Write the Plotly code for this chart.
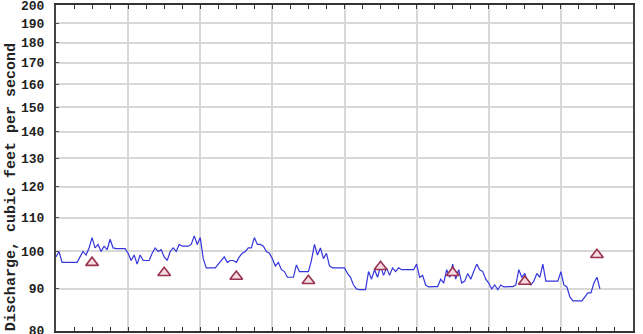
import math
import pandas as pd
import plotly.graph_objects as go

# Hourly discharge, cubic feet per second
discharge = [
    98.5, 100, 97, 97, 97, 97, 97, 97, 98.5, 100, 99, 101, 104, 101, 102, 100,
    101.5, 100.5, 103.5, 101, 100.8, 100.8, 100.8, 100.8,
    99.5, 97.5, 99, 96.5, 99, 97.5, 97.5, 97.5, 99.5, 101, 100, 100.5, 98.5, 97.5,
    100, 101, 100, 102, 101.5, 101.5, 101.5, 102, 104.5, 102,
    104, 98, 95.5, 95.5, 95.5, 95.5, 96.5, 97.5, 98.5, 97, 97.5, 97.5, 97, 98.5,
    99.5, 100, 101, 101, 104, 102, 102, 101.5, 100, 99.5,
    98, 96, 97, 95, 94.5, 93, 93, 93, 96.3, 94.5, 94.5, 94.5, 94.5, 97.5, 102, 99,
    101, 98, 99.5, 96, 95.5, 95.5, 95.5, 95.5,
    95.5, 94, 93, 91, 90, 89.8, 89.8, 89.8, 94.5, 92.5, 95, 93, 96, 93.5, 95.5,
    93.5, 95.5, 94.5, 95.5, 95, 95, 95, 95, 95,
    96.5, 93, 93.5, 91, 90.5, 90.6, 90.6, 90.6, 92.5, 91.5, 95, 93, 96.5, 92.5, 95,
    91.5, 92, 94, 92.5, 94.5, 96.5, 95, 94.5, 92.5,
    91.5, 90, 91, 89.8, 91, 90.5, 90.6, 90.6, 90.6, 91, 95, 93, 94, 91.5, 91, 92,
    94, 93, 96.5, 92, 92, 92, 92, 92,
    94.5, 91, 90.5, 88, 87, 87, 87, 87, 88, 89, 89, 91.5, 93, 90,
]
start = pd.Timestamp("2011-06-01 00:00")
times = pd.date_range(start, periods=len(discharge), freq="h")

# Daily median discharge markers (at noon of each day)
median_days = [0, 1, 2, 3, 4, 5, 6, 7]
median_vals = [96.9, 94.2, 93.2, 92.1, 95.8, 94.2, 91.9, 99.1]
median_times = [start + pd.Timedelta(days=d, hours=12) for d in median_days]

ytick_vals = [80, 90, 100, 110, 120, 130, 140, 150, 160, 170, 180, 190, 200]
ytick_text = [str(v) for v in ytick_vals]

font_mono = dict(family="Liberation Mono", size=13, color="#222", weight="bold")

fig = go.Figure()
fig.add_trace(go.Scatter(
    x=times, y=discharge, mode="lines",
    line=dict(color="#3535dd", width=1.2, shape="linear"),
    showlegend=False, hoverinfo="x+y",
))
fig.add_trace(go.Scatter(
    x=median_times, y=median_vals, mode="markers",
    marker=dict(symbol="triangle-up", size=11, color="#f6dbe4",
                line=dict(color="#99334d", width=1.6)),
    showlegend=False,
))

fig.update_layout(
    width=643, height=334,
    margin=dict(l=56, r=10, t=5, b=3, autoexpand=False),
    paper_bgcolor="white", plot_bgcolor="white",
    xaxis=dict(
        type="date", automargin=False,
        range=[start, start + pd.Timedelta(days=8)],
        dtick=24 * 3600 * 1000, tick0=start,
        showticklabels=False,
        showgrid=True, gridcolor="#d8d8d8", gridwidth=1.5,
        ticks="inside", ticklen=4, tickcolor="#333",
        minor=dict(dtick=6 * 3600 * 1000, ticks="inside", ticklen=4,
                   tickcolor="#333", showgrid=False),
        showline=True, linecolor="#333", linewidth=2, mirror="ticks",
        zeroline=False,
    ),
    yaxis=dict(
        type="log", automargin=False,
        range=[math.log10(79.95), math.log10(200.1)],
        tickvals=ytick_vals, ticktext=ytick_text,
        tickfont=font_mono,
        ticklabeloverflow="allow",
        showgrid=True, gridcolor="#d8d8d8", gridwidth=1.5,
        ticks="inside", ticklen=3, tickcolor="#555",
        ticklabelstandoff=7,
        showline=True, linecolor="#444", linewidth=2, mirror=True,
        zeroline=False,
    ),
    annotations=[dict(
        text="Discharge, cubic feet per second",
        textangle=-90, xref="paper", yref="paper",
        x=-0.077, y=0.44, xanchor="center", yanchor="middle",
        showarrow=False,
        font=dict(family="Liberation Mono", size=15, color="#222", weight="bold"),
    )],
)

fig.write_html("out.html")
